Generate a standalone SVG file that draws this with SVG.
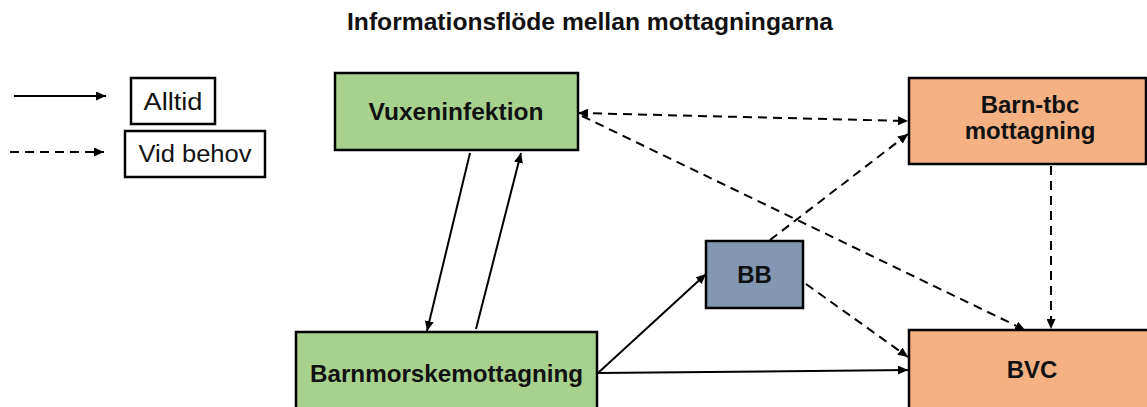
<svg xmlns="http://www.w3.org/2000/svg" width="1147" height="407" viewBox="0 0 1147 407">
  <style>
    .box { stroke: #000; stroke-width: 2.5; }
    .green { fill: #a9d18e; }
    .orange { fill: #f4b183; }
    .blue { fill: #8497b0; }
    .lbl { font-family: "Liberation Sans", Arial, sans-serif; font-weight: bold; font-size: 24px; fill: #111; text-anchor: middle; }
    .leg { font-family: "Liberation Sans", Arial, sans-serif; font-size: 23px; fill: #111; text-anchor: middle; }
    .title { font-family: "Liberation Sans", Arial, sans-serif; font-weight: bold; font-size: 23px; fill: #111; text-anchor: middle; }
    .solid { stroke: #000; stroke-width: 2; fill: none; marker-end: url(#arr); }
    .dash { stroke: #000; stroke-width: 2; fill: none; stroke-dasharray: 9 6; marker-end: url(#arr); }
  </style>
  <defs>
    <marker id="arr" markerUnits="userSpaceOnUse" markerWidth="11" markerHeight="9" refX="10" refY="4.5" orient="auto-start-reverse" viewBox="0 0 11 9">
      <path d="M0,0 L10,4.5 L0,9 z" fill="#000"/>
    </marker>
  </defs>
  <rect width="1147" height="407" fill="#fff"/>

  <text class="title" x="590" y="30" textLength="486" lengthAdjust="spacingAndGlyphs">Informationsflöde mellan mottagningarna</text>

  <g id="legend">
    <line class="solid" x1="14" y1="96" x2="106" y2="96"/>
    <line class="dash" x1="10" y1="152" x2="104" y2="152"/>
    <rect x="131" y="78" width="84" height="46" fill="#fff" class="box" stroke-width="2"/>
    <text class="leg" x="173" y="110" textLength="59" lengthAdjust="spacingAndGlyphs">Alltid</text>
    <rect x="125" y="131" width="140" height="46" fill="#fff" class="box" stroke-width="2"/>
    <text class="leg" x="195" y="162" textLength="113" lengthAdjust="spacingAndGlyphs">Vid behov</text>
  </g>

  <g id="connectors">
    <line class="solid" x1="470" y1="153" x2="427" y2="331"/>
    <line class="solid" x1="476" y1="329" x2="521" y2="153"/>
    <line class="dash" x1="578" y1="113" x2="908" y2="121" style="marker-start:url(#arr)"/>
    <line class="dash" x1="582" y1="116" x2="1025" y2="330"/>
    <line class="dash" x1="770" y1="240" x2="908" y2="134"/>
    <line class="dash" x1="806" y1="284" x2="908" y2="357"/>
    <line class="dash" x1="1051" y1="166" x2="1051" y2="329"/>
    <line class="solid" x1="598" y1="373" x2="706" y2="274"/>
    <line class="solid" x1="598" y1="373" x2="908" y2="370"/>
  </g>

  <g id="vuxeninfektion">
    <rect class="box green" x="335" y="73" width="243" height="77"/>
    <text class="lbl" x="456" y="120" textLength="175" lengthAdjust="spacingAndGlyphs">Vuxeninfektion</text>
  </g>

  <g id="barn-tbc">
    <rect class="box orange" x="909" y="78" width="237" height="86"/>
    <text class="lbl" x="1030" y="113">Barn-tbc</text>
    <text class="lbl" x="1030" y="139">mottagning</text>
  </g>

  <g id="bb">
    <rect class="box blue" x="706" y="241" width="97" height="67"/>
    <text class="lbl" x="754.5" y="283">BB</text>
  </g>

  <g id="barnmorskemottagning">
    <rect class="box green" x="296" y="332" width="301" height="90"/>
    <text class="lbl" x="446.5" y="382" textLength="273" lengthAdjust="spacingAndGlyphs">Barnmorskemottagning</text>
  </g>

  <g id="bvc">
    <rect class="box orange" x="909" y="330" width="250" height="90"/>
    <text class="lbl" x="1032" y="378">BVC</text>
  </g>
</svg>
